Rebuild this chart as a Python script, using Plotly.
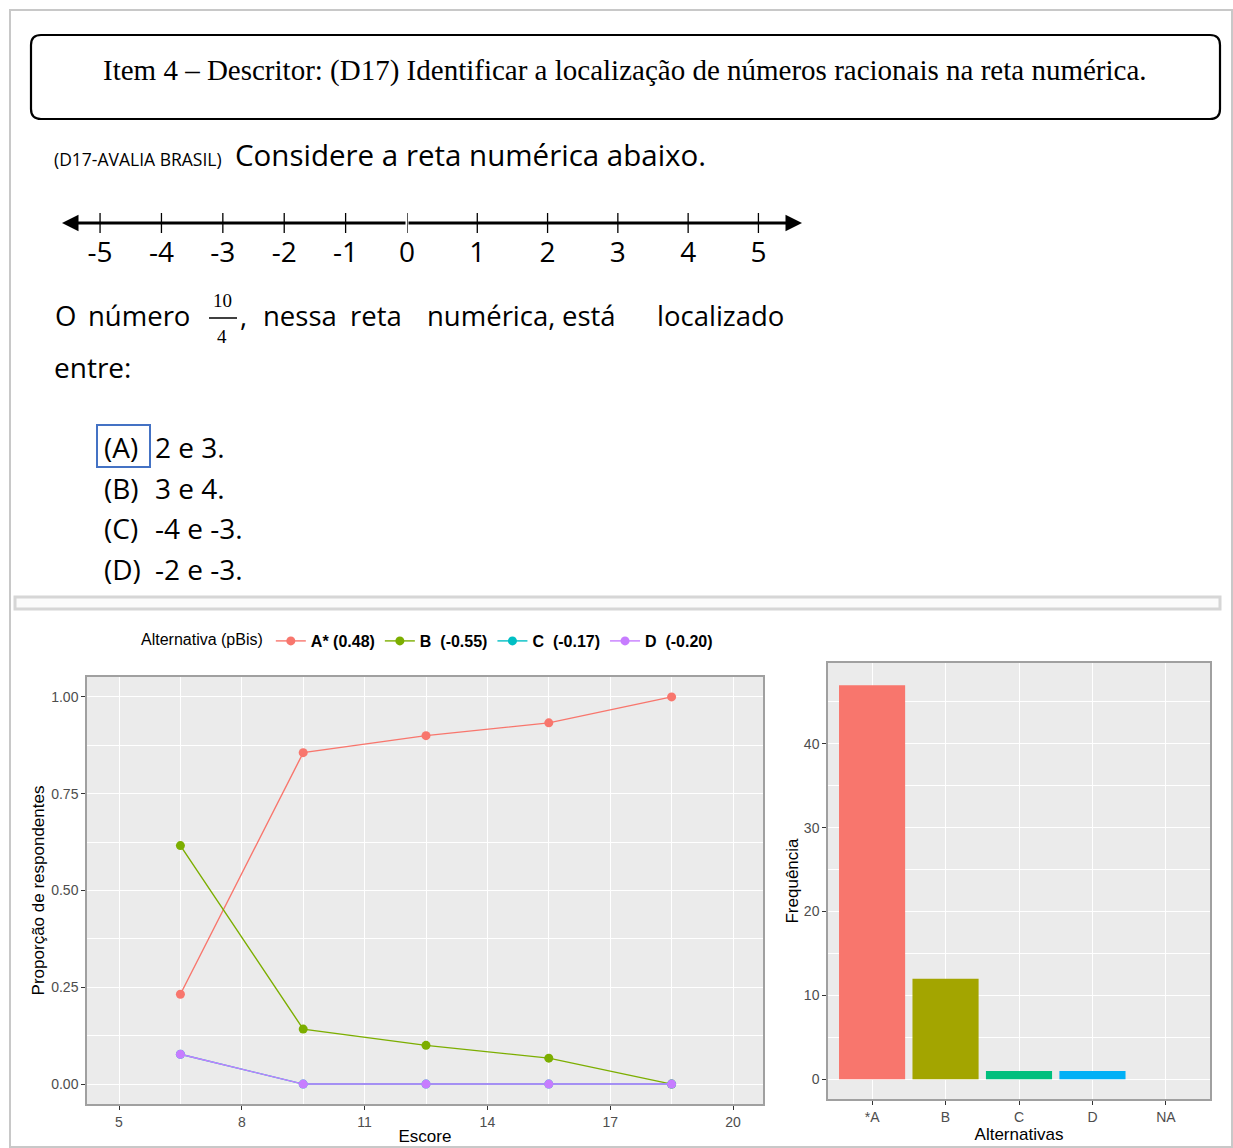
import plotly.graph_objects as go

W, H = 1233, 1148
def X(p): return p / W
def Y(p): return 1 - p / H

# ---------------- data ----------------
escore = [6.5, 9.5, 12.5, 15.5, 18.5]
prop_A = [0.232, 0.856, 0.900, 0.933, 1.000]
prop_B = [0.616, 0.142, 0.100, 0.067, 0.000]
prop_C = [0.077, 0.000, 0.000, 0.000, 0.000]
prop_D = [0.077, 0.000, 0.000, 0.000, 0.000]
legend_labels = ["A* (0.48)", "B  (-0.55)", "C  (-0.17)", "D  (-0.20)"]
line_colors = ["#F8766D", "#7CAE00", "#00BFC4", "#C77CFF"]

alternativas = ["*A", "B", "C", "D", "NA"]
frequencia = [47, 12, 1, 1, 0]
bar_colors = ["#F8766D", "#A3A500", "#00BF7D", "#00B0F6", "#E76BF3"]

reta_neg = [-5, -4, -3, -2, -1]
reta_pos = [0, 1, 2, 3, 4, 5]

opcoes_letra = ["(A)", "(B)", "(C)", "(D)"]
opcoes_texto = ["2 e 3.", "3 e 4.", "-4 e -3.", "-2 e -3."]

SANS = "Open Sans"
GG = "Liberation Sans"

fig = go.Figure()

# ---------------- line chart ----------------
for vals, name, col in zip([prop_A, prop_B, prop_C, prop_D], legend_labels, line_colors):
    fig.add_trace(go.Scatter(
        x=escore, y=vals, mode="lines+markers", name="<b>" + name + "</b>",
        line=dict(color=col, width=1.4), marker=dict(color=col, size=9),
        xaxis="x", yaxis="y"))

# ---------------- bar chart ----------------
fig.add_trace(go.Bar(
    x=alternativas, y=frequencia, marker=dict(color=bar_colors, line=dict(width=0)),
    width=0.9, showlegend=False, xaxis="x2", yaxis="y2"))

# ---------------- number line (two scales: negative / non-negative side) ----------------
for vals, xa, ya in [(reta_neg, "x3", "y3"), (reta_pos, "x4", "y3")]:
    fig.add_trace(go.Scatter(
        x=vals, y=[0] * len(vals), mode="markers",
        marker=dict(symbol="line-ns", size=22, line=dict(width=1.3, color="black"), color="black"),
        showlegend=False, hoverinfo="skip", xaxis=xa, yaxis=ya))

axis_tick_font = dict(family=GG, size=14, color="#4D4D4D")
title_font = dict(family=GG, size=17, color="black")
num_font = dict(family=SANS, size=28, color="black")

layout = dict(
    width=W, height=H, autosize=False, margin=dict(l=0, r=0, t=0, b=0, pad=0, autoexpand=False),
    paper_bgcolor="white", plot_bgcolor="rgba(0,0,0,0)",
    xaxis=dict(domain=[X(87), X(763)], range=[4.218, 20.733], tick0=5, dtick=3,
               tickfont=axis_tick_font, ticks="outside", ticklen=4, tickcolor="#333",
               showgrid=True, gridcolor="white", gridwidth=1.2,
               minor=dict(tick0=5, dtick=1.5, showgrid=True, gridcolor="white", gridwidth=0.6),
               showline=True, mirror=True, linecolor="#A0A0A0", linewidth=1.5,
               zeroline=False, anchor="y", automargin=False,
               title=dict(text="Escore", font=title_font, standoff=2)),
    yaxis=dict(domain=[Y(1104), Y(677)], range=[-0.0515, 1.0515], tick0=0, dtick=0.25,
               tickformat=".2f",
               tickfont=axis_tick_font, ticks="outside", ticklen=4, tickcolor="#333",
               showgrid=True, gridcolor="white", gridwidth=1.2,
               minor=dict(tick0=0, dtick=0.125, showgrid=True, gridcolor="white", gridwidth=0.6),
               showline=True, mirror=True, linecolor="#A0A0A0", linewidth=1.5,
               zeroline=False, anchor="x", automargin=False,
               title=dict(text="Proporção de respondentes", font=title_font, standoff=2)),
    xaxis2=dict(domain=[X(828), X(1210)], range=[-0.6, 4.6], type="category",
                tickfont=axis_tick_font, ticks="outside", ticklen=4, tickcolor="#333",
                showgrid=True, gridcolor="white", gridwidth=1.2,
                showline=True, mirror=True, linecolor="#A0A0A0", linewidth=1.5,
                zeroline=False, anchor="y2", automargin=False,
                title=dict(text="Alternativas", font=title_font, standoff=2)),
    yaxis2=dict(domain=[Y(1099), Y(663)], range=[-2.35, 49.64], tick0=0, dtick=10,
                tickfont=axis_tick_font, ticks="outside", ticklen=4, tickcolor="#333",
                showgrid=True, gridcolor="white", gridwidth=1.2,
                minor=dict(tick0=0, dtick=5, showgrid=True, gridcolor="white", gridwidth=0.6),
                showline=True, mirror=True, linecolor="#A0A0A0", linewidth=1.5,
                zeroline=False, anchor="x2", automargin=False,
                title=dict(text="Frequência", font=title_font, standoff=1)),
    xaxis3=dict(domain=[X(62), X(407)], range=[-5.62, 0], tickvals=reta_neg,
                ticktext=[str(v) for v in reta_neg], tickfont=num_font,
                showgrid=False, zeroline=False, showline=False, ticks="", anchor="y3",
                fixedrange=True, automargin=False),
    xaxis4=dict(domain=[X(407), X(802)], range=[0, 5.62], tickvals=reta_pos,
                ticktext=[str(v) for v in reta_pos], tickfont=num_font,
                showgrid=False, zeroline=False, showline=False, ticks="", anchor="y3",
                fixedrange=True, automargin=False),
    yaxis3=dict(domain=[Y(233), Y(213)], range=[-1, 1], visible=False, fixedrange=True,
                anchor="x3", automargin=False),
    legend=dict(orientation="h", x=X(139), y=Y(641), xanchor="left", yanchor="middle",
                title=dict(text="Alternativa (pBis)", side="left",
                           font=dict(family=GG, size=16, color="black")),
                font=dict(family=GG, size=16, color="black"),
                bgcolor="rgba(0,0,0,0)", itemwidth=30),
    showlegend=True,
)
fig.update_layout(**layout)

shapes = []
# page frame
shapes.append(dict(type="rect", xref="paper", yref="paper", x0=X(10), x1=X(1232), y0=Y(1147), y1=Y(10),
                   line=dict(color="#C8C8C8", width=2), fillcolor="rgba(0,0,0,0)", layer="below"))
# rounded title box
x0, x1, yt, yb = X(31), X(1220), Y(35), Y(119)
rx, ry = 10 / W, 10 / H
path = (f"M {x0+rx},{yt} L {x1-rx},{yt} Q {x1},{yt} {x1},{yt-ry} L {x1},{yb+ry} "
        f"Q {x1},{yb} {x1-rx},{yb} L {x0+rx},{yb} Q {x0},{yb} {x0},{yb+ry} "
        f"L {x0},{yt-ry} Q {x0},{yt} {x0+rx},{yt} Z")
shapes.append(dict(type="path", xref="paper", yref="paper", path=path,
                   line=dict(color="black", width=2.2), fillcolor="white"))
# separator strip
shapes.append(dict(type="rect", xref="paper", yref="paper", x0=X(15), x1=X(1220), y0=Y(609), y1=Y(597),
                   line=dict(color="#D6D6D6", width=3), fillcolor="#FBFBFB"))
# answer highlight box
shapes.append(dict(type="rect", xref="paper", yref="paper", x0=X(97), x1=X(150), y0=Y(467), y1=Y(425),
                   line=dict(color="#4472C4", width=2), fillcolor="rgba(0,0,0,0)"))
# fraction bar
shapes.append(dict(type="line", xref="paper", yref="paper", x0=X(209), x1=X(237), y0=Y(318), y1=Y(318),
                   line=dict(color="black", width=1.5)))
# panel backgrounds
for xr, yr in [("x domain", "y domain"), ("x2 domain", "y2 domain")]:
    shapes.append(dict(type="rect", xref=xr, yref=yr, x0=0, x1=1, y0=0, y1=1,
                       fillcolor="#EBEBEB", line=dict(width=0), layer="below"))
fig.update_layout(shapes=shapes)

ann = []
def txt(x, y, s, size, family=SANS, xanchor="left", color="black"):
    ann.append(dict(x=X(x), y=Y(y), xref="paper", yref="paper", text=s, showarrow=False,
                    xanchor=xanchor, yanchor="middle", font=dict(family=family, size=size, color=color)))

txt(625, 70, "Item 4 – Descritor: (D17) Identificar a localização de números racionais na reta numérica.",
    29, family="Liberation Serif", xanchor="center")
txt(52, 159, "(D17-AVALIA BRASIL)", 17.5)
txt(233, 154, "Considere a reta numérica abaixo.", 29.5)

# justified question line
words = [(53, "O"), (86, "número"), (238, ","), (261, "nessa"), (348, "reta"),
         (425, "numérica,"), (560, "está"), (655, "localizado")]
for x, w in words:
    txt(x, 316, w, 27.5)
txt(222, 300, "10", 19, family="Liberation Serif", xanchor="center")
txt(222, 336, "4", 19, family="Liberation Serif", xanchor="center")
txt(52, 367, "entre:", 28)

for i, (l, t) in enumerate(zip(opcoes_letra, opcoes_texto)):
    yy = 447 + i * 40.5
    txt(102, yy, l, 28)
    txt(153, yy, t, 28)

# number line arrows
for end, xr in [(5.62, "x4"), (-5.62, "x3")]:
    ann.append(dict(x=end, y=0, xref=xr, yref="y3", ax=0, ay=0, axref=xr, ayref="y3",
                    text="", showarrow=True, arrowhead=2, arrowsize=1.1, arrowwidth=3,
                    arrowcolor="black"))
fig.update_layout(annotations=ann)

fig.write_html("out.html", config={"responsive": False, "displayModeBar": False},
               post_script="document.body.style.margin='0';document.body.style.padding='0';"
                           "document.body.style.overflow='hidden';")
